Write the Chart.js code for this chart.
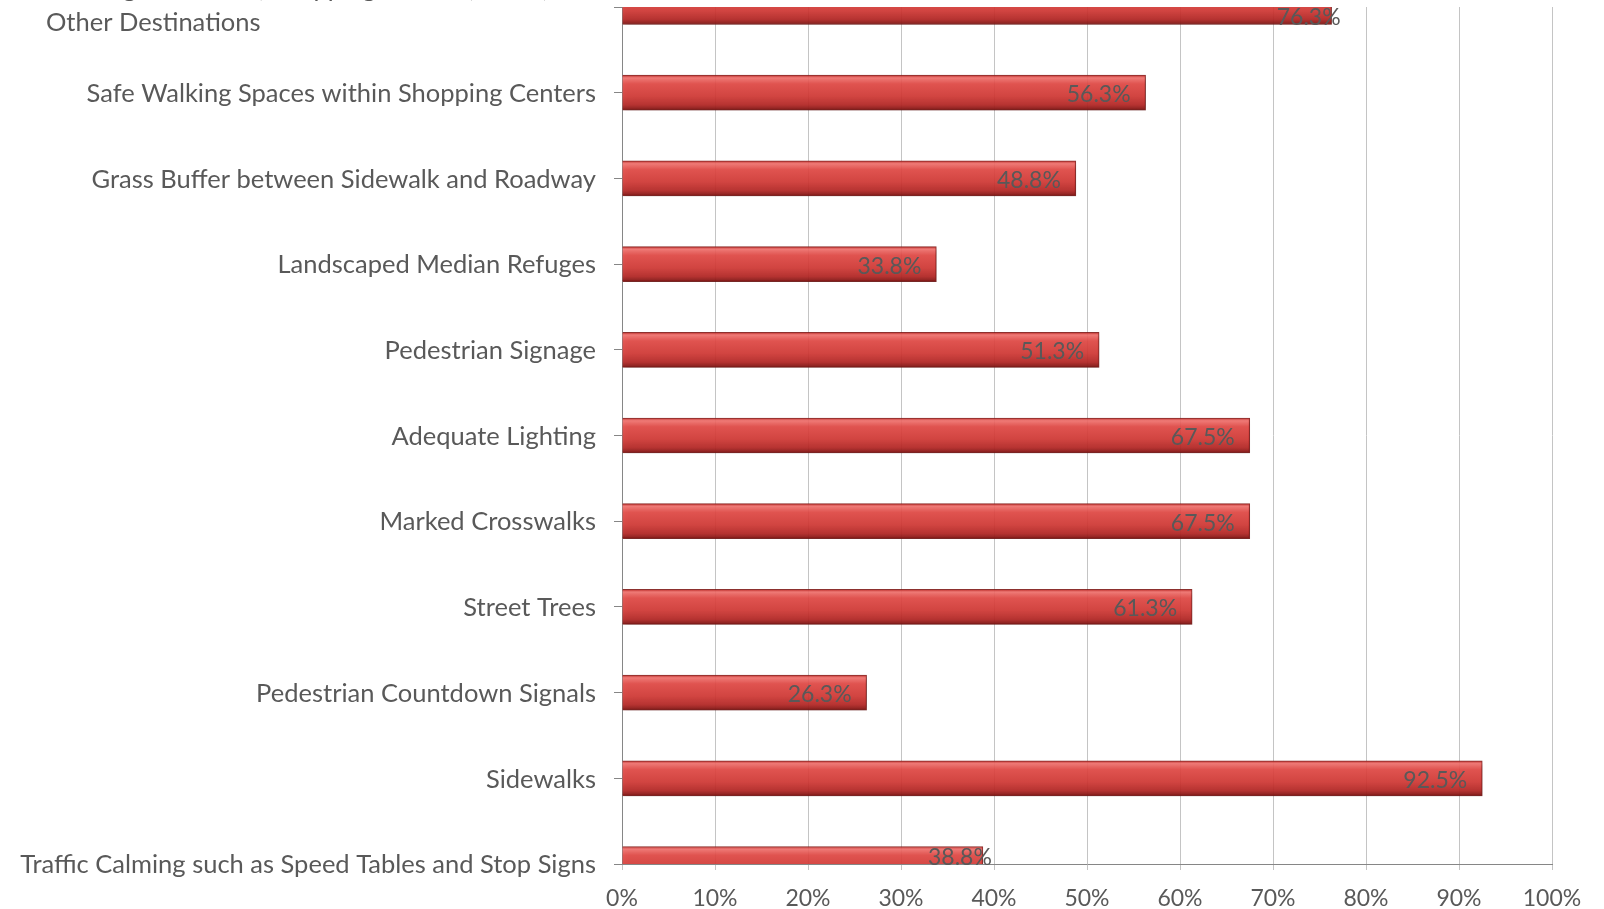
<!DOCTYPE html>
<html>
<head>
<meta charset="utf-8">
<script src="https://cdn.jsdelivr.net/npm/chart.js@4.4.1/dist/chart.umd.min.js"></script>
<style>
  html, body { margin: 0; padding: 0; background: #fff; }
  #wrap { width: 1604px; height: 909px; position: relative; }
</style>
</head>
<body>
<div id="wrap"><canvas id="barChart"></canvas></div>
<script>
// categories top to bottom, as in the picture
const categories = [
  ['Walking to Schools, Shopping Centers, Parks, and', 'Other Destinations'],
  'Safe Walking Spaces within Shopping Centers',
  'Grass Buffer between Sidewalk and Roadway',
  'Landscaped Median Refuges',
  'Pedestrian Signage',
  'Adequate Lighting',
  'Marked Crosswalks',
  'Street Trees',
  'Pedestrian Countdown Signals',
  'Sidewalks',
  'Traffic Calming such as Speed Tables and Stop Signs'
];
const percentValues = [76.3, 56.3, 48.8, 33.8, 51.3, 67.5, 67.5, 61.3, 26.3, 92.5, 38.8];
const xTickValues = [0, 10, 20, 30, 40, 50, 60, 70, 80, 90, 100];

const textGray = '#595959';
const fontFamily = 'Lato, "Open Sans", sans-serif';
const catSize = 25.5;
const tickSize = 23;
const valueSize = 23;
const barThick = 35;

function barGradient(c) {
  const chart = c.chart;
  const y = chart.scales.y;
  if (!chart.chartArea || !y) return '#d13b38';
  const cy = y.getPixelForValue(c.dataIndex);
  const g = chart.ctx.createLinearGradient(0, cy - barThick / 2, 0, cy + barThick / 2);
  g.addColorStop(0, 'rgba(196,52,49,0.92)');
  g.addColorStop(0.08, 'rgba(240,110,106,0.9)');
  g.addColorStop(0.25, 'rgba(226,70,66,0.9)');
  g.addColorStop(0.6, 'rgba(210,54,50,0.9)');
  g.addColorStop(0.85, 'rgba(180,38,36,0.92)');
  g.addColorStop(1, 'rgba(125,22,20,0.95)');
  return g;
}

const barShadow = {
  id: 'barShadow',
  beforeDatasetsDraw(chart) {
    const ctx = chart.ctx;
    ctx.save();
    ctx.shadowColor = 'rgba(0,0,0,0.22)';
    ctx.shadowBlur = 5;
    ctx.shadowOffsetX = 2;
    ctx.shadowOffsetY = 3;
  },
  afterDatasetsDraw(chart) {
    chart.ctx.restore();
  }
};

// category names: single lines right aligned, wrapped ones as a left aligned block
const categoryLabels = {
  id: 'categoryLabels',
  afterDraw(chart) {
    const ctx = chart.ctx;
    const y = chart.scales.y;
    const right = y.right - 26;
    ctx.save();
    ctx.font = catSize + 'px ' + fontFamily;
    ctx.fillStyle = textGray;
    ctx.textBaseline = 'middle';
    ctx.textAlign = 'left';
    chart.data.labels.forEach((lab, i) => {
      const cy = y.getPixelForValue(i) + 1;
      const lines = Array.isArray(lab) ? lab : [lab];
      const w = Math.max(...lines.map(l => ctx.measureText(l).width));
      const lineH = lines.length > 1 ? 34 : 0;
      const shift = lines.length > 1 ? -2 : 0;
      lines.forEach((l, k) => {
        ctx.fillText(l, right - w, cy + shift + (k - (lines.length - 1) / 2) * lineH);
      });
    });
    ctx.restore();
  }
};

const valueLabels = {
  id: 'valueLabels',
  afterDraw(chart) {
    const ctx = chart.ctx;
    const area = chart.chartArea;
    const meta = chart.getDatasetMeta(0);
    ctx.save();
    ctx.font = valueSize + 'px ' + fontFamily;
    ctx.fillStyle = textGray;
    ctx.textAlign = 'right';
    ctx.textBaseline = 'middle';
    meta.data.forEach((bar, i) => {
      const top = Math.max(bar.y - barThick / 2, area.top);
      const bottom = Math.min(bar.y + barThick / 2, area.bottom);
      const clipped = top > bar.y - barThick / 2 || bottom < bar.y + barThick / 2;
      const ty = clipped ? (top + bottom) / 2 + 2 : bar.y + 2;
      const tx = clipped ? bar.x + 9 : bar.x - 15;
      ctx.fillText(percentValues[i].toFixed(1) + '%', tx, ty);
    });
    ctx.restore();
  }
};

new Chart(document.getElementById('barChart'), {
  type: 'bar',
  data: {
    labels: categories,
    datasets: [{
      data: percentValues,
      backgroundColor: barGradient,
      borderColor: 'rgba(130,25,23,0.9)',
      borderWidth: 1,
      borderSkipped: 'start',
      barThickness: barThick
    }]
  },
  options: {
    indexAxis: 'y',
    responsive: true,
    maintainAspectRatio: false,
    animation: false,
    layout: { padding: { top: 7, right: 52, left: 0, bottom: 0 } },
    plugins: {
      legend: { display: false },
      tooltip: { enabled: false }
    },
    scales: {
      x: {
        min: 0,
        max: 100,
        afterBuildTicks: s => { s.ticks = xTickValues.map(v => ({ value: v })); },
        afterFit: s => { s.height = 45; },
        grid: { color: '#c4c4c4', lineWidth: 1, tickLength: 6, tickColor: '#c4c4c4' },
        border: { color: '#868686' },
        ticks: {
          color: textGray,
          font: { family: fontFamily, size: tickSize },
          padding: 15,
          maxRotation: 0,
          callback: v => v + '%'
        }
      },
      y: {
        type: 'category',
        offset: false,
        afterFit: s => { s.width = 622; s.paddingTop = 0; s.paddingBottom = 0; },
        grid: { offset: false, drawOnChartArea: false, tickLength: 8, color: '#868686' },
        border: { color: '#868686' },
        ticks: { display: false }
      }
    }
  },
  plugins: [barShadow, categoryLabels, valueLabels]
});
</script>
</body>
</html>
